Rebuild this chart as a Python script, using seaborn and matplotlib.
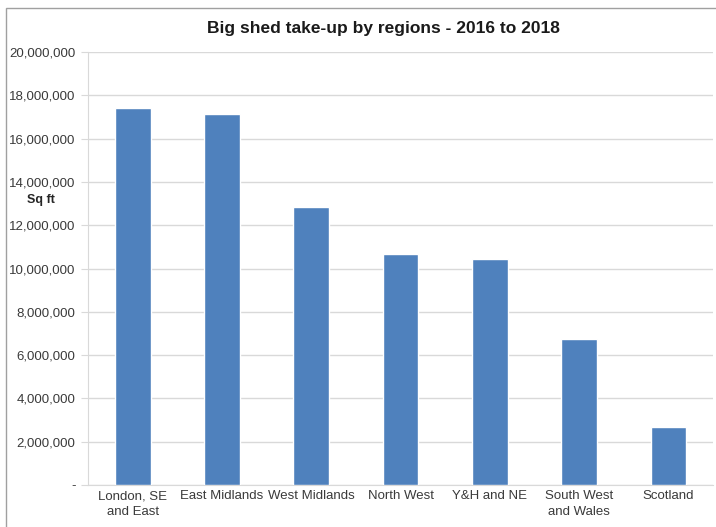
import seaborn as sns
import matplotlib.pyplot as plt
import matplotlib.ticker as mticker
from matplotlib.patches import Rectangle
import pandas as pd

sns.set_style("white")
plt.rcParams['font.family'] = ['Liberation Sans', 'DejaVu Sans']

regions = ["London, SE\nand East", "East Midlands", "West Midlands", "North West",
           "Y&H and NE", "South West\nand Wales", "Scotland"]
take_up = [17400000, 17150000, 12850000, 10650000, 10450000, 6750000, 2680000]

df = pd.DataFrame({"region": regions, "sqft": take_up})

fig = plt.figure(figsize=(7.16, 5.27), dpi=100)
ax = fig.add_axes([0.123, 0.080, 0.873, 0.821])

sns.barplot(x="region", y="sqft", data=df, color="#4f81bd", width=0.4,
            saturation=1, ax=ax, zorder=3)

ax.set_ylim(0, 20000000)
ax.set_xlim(-0.5, 6.5)
ax.yaxis.set_major_locator(mticker.MultipleLocator(2000000))
ax.yaxis.set_major_formatter(mticker.FuncFormatter(
    lambda v, p: "-" if v == 0 else f"{int(v):,}"))
ax.grid(axis="y", color="#d9d9d9", linewidth=1, zorder=0)

for s in ["top", "right"]:
    ax.spines[s].set_visible(False)
ax.spines["left"].set_color("#d9d9d9")
ax.spines["bottom"].set_color("#d9d9d9")

ax.tick_params(axis="y", length=5, color="#d9d9d9", labelsize=9.5,
               labelcolor="#3a3a3a", left=True, pad=4)
ax.set_xticks(range(len(regions)))
ax.set_xticklabels(regions, fontsize=9.5, color="#3a3a3a", linespacing=1.45)
ax.tick_params(axis="x", length=0, pad=4)
# category separators on x axis
ax.set_xticks([i + 0.5 for i in range(-1, len(regions))], minor=True)
ax.tick_params(axis="x", which="minor", length=5, color="#d9d9d9")

ax.set_xlabel("")
ax.set_ylabel("")
fig.text(0.057, 0.62, "Sq ft", fontsize=9, fontweight="bold", ha="center", va="center")
fig.text(0.535, 0.945, "Big shed take-up by regions - 2016 to 2018",
         fontsize=12.5, fontweight="bold", ha="center", va="center", color="#1a1a1a")

fig.patches.append(Rectangle((0.008, -0.05), 1.1, 1.035, transform=fig.transFigure,
                             fill=False, edgecolor="#a0a0a0", linewidth=1))

fig.savefig("out.png", dpi=100)
